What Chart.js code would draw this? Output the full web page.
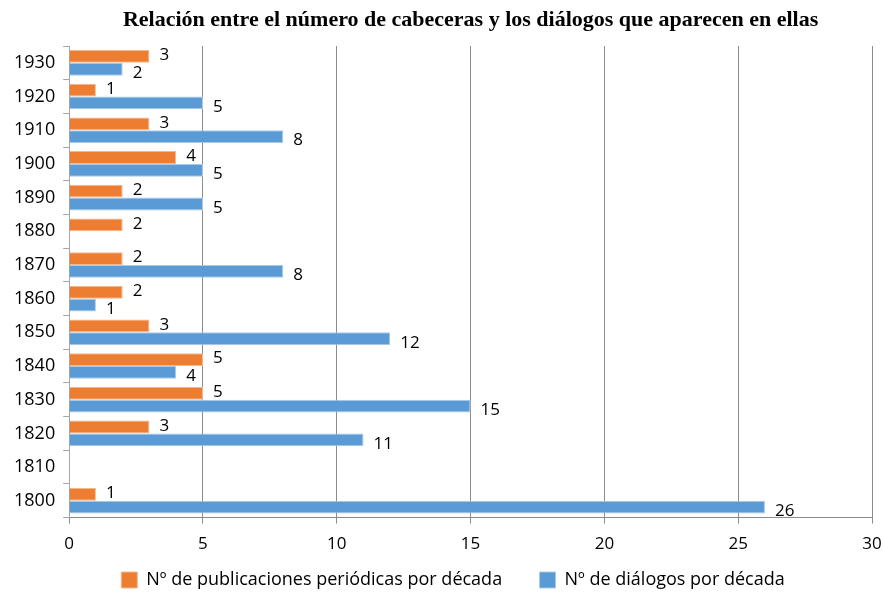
<!DOCTYPE html>
<html>
<head>
<meta charset="utf-8">
<script src="https://cdn.jsdelivr.net/npm/chart.js@4"></script>
<style>
  html, body { margin: 0; padding: 0; background: #fff; }
  #wrap { width: 884px; height: 592px; }
</style>
</head>
<body>
<div id="wrap"><canvas id="chart" width="884" height="592"></canvas></div>
<script>
// decades, listed top to bottom as in the picture
const decades = ["1930", "1920", "1910", "1900", "1890", "1880", "1870", "1860", "1850", "1840", "1830", "1820", "1810", "1800"];
const publicaciones = [3, 1, 3, 4, 2, 2, 2, 2, 3, 5, 5, 3, null, 1];
const dialogos = [2, 5, 8, 5, 5, null, 8, 1, 12, 4, 15, 11, null, 26];
const xTicks = [0, 5, 10, 15, 20, 25, 30];

const titleText = "Relación entre el número de cabeceras y los diálogos que aparecen en ellas";
const labelFont = "'Open Sans', 'Noto Sans', sans-serif";

// title centred over the plot area, like the original
const titlePlugin = {
  id: "plotTitle",
  afterDraw(chart) {
    const ctx = chart.ctx;
    const area = chart.chartArea;
    ctx.save();
    ctx.font = "bold 22px 'Liberation Serif', 'DejaVu Serif', serif";
    ctx.fillStyle = "#000";
    ctx.textAlign = "center";
    ctx.textBaseline = "middle";
    ctx.fillText(titleText, (area.left + area.right) / 2, 20);
    ctx.restore();
  }
};

// push the legend a bit lower, closer to the bottom edge
const legendShift = {
  id: "legendShift",
  afterLayout(chart) {
    if (!chart.legend) return;
    chart.legend.top += 7;
    chart.legend.bottom += 7;
    chart.legend.left += 8;
    chart.legend.right += 8;
  }
};

// value labels at the end of each bar
const valuePlugin = {
  id: "valueLabels",
  afterDatasetsDraw(chart) {
    const ctx = chart.ctx;
    ctx.save();
    ctx.font = "17px " + labelFont;
    ctx.fillStyle = "#000";
    ctx.textAlign = "left";
    ctx.textBaseline = "middle";
    chart.data.datasets.forEach((ds, i) => {
      const meta = chart.getDatasetMeta(i);
      const dy = i === 0 ? -1 : 4;
      meta.data.forEach((bar, j) => {
        const v = ds.data[j];
        if (v === null || v === undefined) return;
        ctx.fillText(String(v), bar.x + 10, bar.y + dy);
      });
    });
    ctx.restore();
  }
};

new Chart(document.getElementById("chart"), {
  type: "bar",
  data: {
    labels: decades,
    datasets: [
      {
        label: "Nº de publicaciones periódicas por década",
        data: publicaciones,
        backgroundColor: "#ED7D31",
        borderColor: "#F6B68C",
        borderWidth: 1,
        borderSkipped: "start",
        categoryPercentage: 0.76,
        barPercentage: 1.0,
      },
      {
        label: "Nº de diálogos por década",
        data: dialogos,
        backgroundColor: "#5B9BD5",
        borderColor: "#A9CBEA",
        borderWidth: 1,
        borderSkipped: "start",
        categoryPercentage: 0.76,
        barPercentage: 1.0,
      },
    ],
  },
  options: {
    indexAxis: "y",
    responsive: false,
    animation: false,
    layout: { padding: { top: 46, left: 6, right: 0, bottom: 0 } },
    scales: {
      x: {
        min: 0,
        max: 30,
        afterBuildTicks: (axis) => { axis.ticks = xTicks.map((v) => ({ value: v })); },
        afterFit: (axis) => { axis.paddingRight = 12; },
        grid: { color: "#8c8c8c", tickLength: 6, drawTicks: true },
        border: { color: "#8c8c8c" },
        ticks: { color: "#000", font: { size: 17, family: labelFont }, padding: 10 },
      },
      y: {
        grid: { drawOnChartArea: false, color: "#a6a6a6", tickLength: 6, offset: true },
        border: { color: "#a6a6a6" },
        ticks: { color: "#000", font: { size: 18, family: labelFont }, padding: 8 },
      },
    },
    plugins: {
      title: { display: false },
      legend: {
        position: "bottom",
        labels: {
          color: "#000",
          font: { size: 18, family: labelFont, lineHeight: 1.0 },
          boxWidth: 16,
          boxHeight: 16,
          padding: 0,
          generateLabels: (chart) => {
            const items = Chart.defaults.plugins.legend.labels.generateLabels(chart);
            items[0].text = items[0].text + "        ";
            return items;
          },
        },
      },
      tooltip: { enabled: false },
    },
  },
  plugins: [titlePlugin, legendShift, valuePlugin],
});
</script>
</body>
</html>
